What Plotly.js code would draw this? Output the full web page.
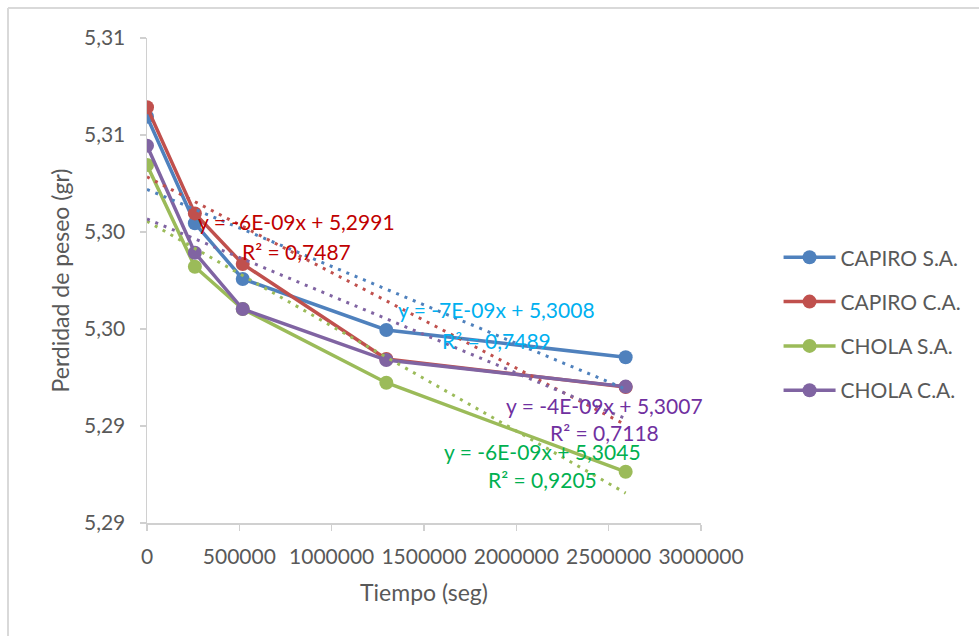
<!DOCTYPE html>
<html>
<head>
<meta charset="utf-8">
<script src="https://cdn.plot.ly/plotly-3.0.1.min.js"></script>
<style>
html,body{margin:0;padding:0;background:#fff;}
#chart{width:979px;height:636px;}
</style>
</head>
<body>
<div id="chart"></div>
<script>
// ---- data ----
var tiempo = [0, 259200, 518400, 1296000, 2592000];
var seriesNames = ["CAPIRO S.A.", "CAPIRO C.A.", "CHOLA S.A.", "CHOLA C.A."];
var capiroSA = [5.30844, 5.30295, 5.30008, 5.29745, 5.29604];
var capiroCA = [5.30893, 5.30346, 5.30085, 5.29595, 5.29451];
var cholaSA  = [5.30595, 5.30071, 5.29853, 5.29473, 5.29014];
var cholaCA  = [5.30695, 5.30143, 5.29853, 5.29590, 5.29453];
var yTickVals = [5.2875, 5.2925, 5.2975, 5.3025, 5.3075, 5.3125];
var yTickText = ["5,29", "5,29", "5,30", "5,30", "5,31", "5,31"];
var xTickVals = [0, 500000, 1000000, 1500000, 2000000, 2500000, 3000000];
var xTickText = ["0", "500000", "1000000", "1500000", "2000000", "2500000", "3000000"];
var eqLines = [
  ["y = -7E-09x + 5,3008", "R² = 0,7489"],
  ["y = -6E-09x + 5,2991", "R² = 0,7487"],
  ["y = -6E-09x + 5,3045", "R² = 0,9205"],
  ["y = -4E-09x + 5,3007", "R² = 0,7118"]
];

// ---- styling ----
var seriesColors = ["#4F81BD", "#C0504D", "#9BBB59", "#8064A2"];
var eqColors = ["#00B0F0", "#C00000", "#00B050", "#7030A0"];
// label centres (x in data units, y in data units) for the two lines of each equation
var eqPos = [
  [[1895000, 5.29853], [1895000, 5.29693]],
  [[807000, 5.30302], [807000, 5.30147]],
  [[2144000, 5.29121], [2144000, 5.28972]],
  [[2480000, 5.29358], [2480000, 5.29214]]
];
var FONT = "Lato, 'Open Sans', sans-serif";
var TXT = "#595959";

var allY = [capiroSA, capiroCA, cholaSA, cholaCA];

function linreg(xs, ys) {
  var n = xs.length, mx = 0, my = 0;
  for (var i = 0; i < n; i++) { mx += xs[i]; my += ys[i]; }
  mx /= n; my /= n;
  var sxy = 0, sxx = 0;
  for (var j = 0; j < n; j++) { sxy += (xs[j]-mx)*(ys[j]-my); sxx += (xs[j]-mx)*(xs[j]-mx); }
  var b = sxy / sxx;
  return {a: my - b*mx, b: b};
}

var traces = [];
for (var s = 0; s < 4; s++) {
  traces.push({
    type: "scatter", mode: "lines+markers", name: seriesNames[s],
    x: tiempo, y: allY[s],
    line: {color: seriesColors[s], width: 3.5},
    marker: {color: seriesColors[s], size: 14},
    legendgroup: "g" + s
  });
}
for (var t = 0; t < 4; t++) {
  var r = linreg(tiempo, allY[t]);
  var x0 = Math.min.apply(null, tiempo), x1 = Math.max.apply(null, tiempo);
  traces.push({
    type: "scatter", mode: "lines", showlegend: false, hoverinfo: "skip",
    x: [x0, x1], y: [r.a + r.b*x0, r.a + r.b*x1],
    line: {color: seriesColors[t], width: 3, dash: "3px,6px"}
  });
}

var annotations = [];
for (var k = 0; k < 4; k++) {
  for (var l = 0; l < 2; l++) {
    annotations.push({
      xref: "x", yref: "y", x: eqPos[k][l][0], y: eqPos[k][l][1],
      text: eqLines[k][l], showarrow: false, xanchor: "center", yanchor: "middle",
      font: {family: FONT, size: 21, color: eqColors[k]}
    });
  }
}

var layout = {
  width: 979, height: 636,
  margin: {l: 147, r: 278, t: 38, b: 113},
  paper_bgcolor: "#ffffff", plot_bgcolor: "#ffffff",
  font: {family: FONT, color: TXT, size: 21},
  showlegend: true,
  legend: {
    x: 1.14, xanchor: "left", y: 0.41, yanchor: "middle",
    font: {family: FONT, size: 21, color: TXT},
    tracegroupgap: 14, bgcolor: "rgba(0,0,0,0)", itemwidth: 52
  },
  xaxis: {
    range: [0, 3000000], tickvals: xTickVals, ticktext: xTickText,
    showgrid: false, zeroline: false, showline: true, linecolor: "#d0d0d0", linewidth: 1.5,
    ticks: "outside", ticklen: 6, tickcolor: "#d0d0d0", tickwidth: 1.5,
    tickfont: {family: FONT, size: 21, color: TXT}, ticklabelstandoff: 8,
    title: {text: "Tiempo (seg)", font: {family: FONT, size: 23, color: TXT}, standoff: 18},
    automargin: false
  },
  yaxis: {
    range: [5.2875, 5.3125], tickvals: yTickVals, ticktext: yTickText,
    showgrid: false, zeroline: false, showline: true, linecolor: "#d0d0d0", linewidth: 1.5,
    ticks: "outside", ticklen: 6, tickcolor: "#d0d0d0", tickwidth: 1.5,
    tickfont: {family: FONT, size: 21, color: TXT}, ticklabelstandoff: 10,
    title: {text: "Perdidad de peseo (gr)", font: {family: FONT, size: 23, color: TXT}, standoff: 8},
    automargin: false
  },
  annotations: annotations,
  shapes: [
    {type: "line", xref: "paper", yref: "paper", x0: -0.2509, x1: -0.2509, y0: 1.0619, y1: -0.24,
     line: {color: "#d9d9d9", width: 2}},
    {type: "line", xref: "paper", yref: "paper", x0: -0.2509, x1: 1.51, y0: 1.0619, y1: 1.0619,
     line: {color: "#d9d9d9", width: 2}}
  ]
};

Plotly.newPlot("chart", traces, layout, {displayModeBar: false, staticPlot: true});
</script>
</body>
</html>
